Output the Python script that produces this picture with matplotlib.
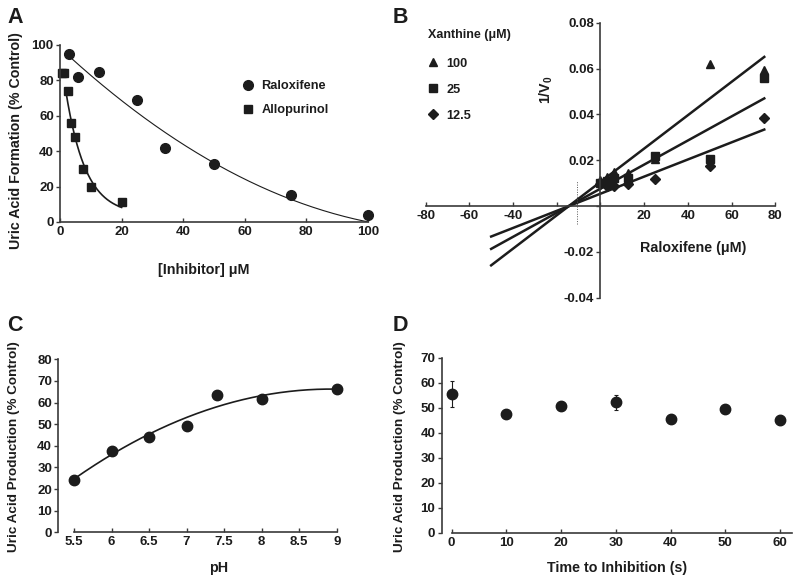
import matplotlib
matplotlib.use("Agg")
import matplotlib.pyplot as plt
import numpy as np
from matplotlib.lines import Line2D

plt.rcParams["font.family"] = ["Liberation Sans", "DejaVu Sans"]
plt.rcParams["font.weight"] = "bold"
plt.rcParams["mathtext.fontset"] = "custom"
plt.rcParams["mathtext.rm"] = "Liberation Sans:bold"
plt.rcParams["mathtext.bf"] = "Liberation Sans:bold"

INK = "#1c1c1c"
SPINE = "#3a3a3a"
TICK_FS = 9.5
LABEL_FS = 10.3

# ── data ─────────────────────────────────────────────────────────────────────
# A: concentration response
ralox_conc = [3, 6, 12.5, 25, 34, 50, 75, 100]
ralox_pct = [95, 82, 85, 69, 42, 33, 15, 4]
allo_conc = [0.5, 1.4, 2.5, 3.7, 5, 7.5, 10, 20]
allo_pct = [84, 84, 74, 56, 48, 30, 20, 11]

# B: Dixon plot, 1/V0 vs raloxifene
dixon_x = [0, 3.125, 6.25, 12.5, 25, 50, 75]
xan_100 = [0.0113, 0.0128, 0.0150, 0.0146, 0.0204, 0.0618, 0.0595]
xan_25 = [0.0102, 0.0109, 0.0121, 0.0124, 0.0218, 0.0205, 0.0557]
xan_12 = [0.0095, 0.0089, 0.0089, 0.0095, 0.0117, 0.0175, 0.0383]
xan_labels = ["100", "25", "12.5"]
dixon_cross = -14.5   # common intersection
ki_line = -10.8       # dotted marker

# C: pH dependence
ph = [5.5, 6, 6.5, 7, 7.4, 8, 9]
ph_pct = [24.2, 37.8, 44.3, 49.0, 63.5, 61.5, 66.3]

# D: time to inhibition
t_inh = [0, 10, 20, 30, 40, 50, 60]
t_pct = [55.4, 47.6, 50.5, 52.1, 45.3, 49.6, 45.1]
t_err = [5.2, 0.6, 0.6, 3.1, 0.6, 1.5, 1.9]


# ── helpers ──────────────────────────────────────────────────────────────────
def style_axes(ax, xdir="in"):
    for s in ("top", "right"):
        ax.spines[s].set_visible(False)
    for s in ("left", "bottom"):
        ax.spines[s].set_color(SPINE)
        ax.spines[s].set_linewidth(1.2)
    ax.tick_params(axis="y", direction="out", length=3, width=1, color=SPINE,
                   labelsize=TICK_FS, pad=1.5, labelcolor=INK)
    ax.tick_params(axis="x", direction=xdir, length=3, width=1, color=SPINE,
                   labelsize=TICK_FS, pad=3, labelcolor=INK)
    for lab in ax.get_xticklabels() + ax.get_yticklabels():
        lab.set_fontweight("bold")


def exp_plateau_fit(x, y):
    x = np.asarray(x, float)
    y = np.asarray(y, float)
    best = None
    for k in np.linspace(0.02, 1.5, 1500):
        M = np.column_stack([np.exp(-k * x), np.ones_like(x)])
        coef, *_ = np.linalg.lstsq(M, y, rcond=None)
        sse = np.sum((M @ coef - y) ** 2)
        if best is None or sse < best[0]:
            best = (sse, k, coef)
    _, k, (a, c) = best
    return lambda xx: a * np.exp(-k * xx) + c


def anchored_quad_fit(x, y):
    # quadratic that reaches zero at the top concentration
    x = np.asarray(x, float)
    y = np.asarray(y, float)
    xm = x.max()
    M = np.column_stack([xm - x, (xm - x) * x])
    (b0, b1), *_ = np.linalg.lstsq(M, y, rcond=None)
    return lambda xx: (xm - xx) * (b0 + b1 * xx)


fig = plt.figure(figsize=(8, 5.84), dpi=100)

# ── A ────────────────────────────────────────────────────────────────────────
axA = fig.add_axes([0.075, 0.620, 0.385, 0.303])
fr = anchored_quad_fit(ralox_conc, ralox_pct)
xr = np.linspace(3, 100, 200)
axA.plot(xr, fr(xr), color=INK, lw=0.8)
fa = exp_plateau_fit(allo_conc, allo_pct)
xa = np.linspace(1.85, 20, 200)
axA.plot(xa, fa(xa), color=INK, lw=1.2)
axA.plot(ralox_conc, ralox_pct, "o", color=INK, ms=7, clip_on=False,
         label="Raloxifene")
axA.plot(allo_conc, allo_pct, "s", color=INK, ms=6, clip_on=False,
         label="Allopurinol")
axA.set_xlim(0, 100)
axA.set_ylim(0, 100)
axA.set_xticks(range(0, 101, 20))
axA.set_yticks(range(0, 101, 20))
style_axes(axA)
axA.legend(loc="upper left", bbox_to_anchor=(0.586, 0.800), frameon=False,
           prop={"size": 9.2, "weight": "bold"}, handletextpad=0.45,
           labelspacing=0.95, handlelength=1.2, borderpad=0, borderaxespad=0,
           labelcolor=INK)
fig.text(0.02, 0.76, "Uric Acid Formation (% Control)", rotation=90,
         ha="center", va="center", fontsize=LABEL_FS, fontweight="bold",
         color=INK)
fig.text(0.255, 0.538, "[Inhibitor] \u03bcM", ha="center", va="center",
         fontsize=LABEL_FS, fontweight="bold", color=INK)

# ── B ────────────────────────────────────────────────────────────────────────
axB = fig.add_axes([0.532, 0.490, 0.437, 0.471])
markers = ["^", "s", "D"]
msizes = [6, 6, 5]
handles = []
for yv, m, ms, lab in zip([xan_100, xan_25, xan_12], markers, msizes, xan_labels):
    xs = np.asarray(dixon_x) - dixon_cross
    slope = np.sum(xs * np.asarray(yv)) / np.sum(xs ** 2)
    xl = np.array([-50, 75])
    axB.plot(xl, slope * (xl - dixon_cross), color=INK, lw=1.8)
    axB.plot(dixon_x, yv, m, color=INK, ms=ms, clip_on=False)
    handles.append(Line2D([], [], ls="none", marker=m, color=INK, ms=ms, label=lab))
axB.plot([ki_line, ki_line], [-0.008, 0.011], ls=(0, (1, 1.5)), color="#555555",
         lw=0.7)
axB.set_xlim(-80, 80)
axB.set_ylim(-0.04, 0.08)
axB.spines["left"].set_position(("data", 0))
axB.spines["bottom"].set_position(("data", 0))
axB.set_xticks(range(-80, 81, 20))
axB.set_xticklabels(["-80", "-60", "-40", "", "", "20", "40", "60", "80"])
axB.set_yticks([-0.04, -0.02, 0, 0.02, 0.04, 0.06, 0.08])
axB.set_yticklabels(["-0.04", "-0.02", "", "0.02", "0.04", "0.06", "0.08"])
style_axes(axB)
fig.text(0.535, 1 - 35 / 584, "Xanthine (\u03bcM)", ha="left", va="center",
         fontsize=9.0, fontweight="bold", color=INK)
fig.legend(handles=handles, loc="upper left", bbox_to_anchor=(0.532, 0.901),
           frameon=False, prop={"size": 9.2, "weight": "bold"},
           handletextpad=0.45, labelspacing=1.1, handlelength=1.2,
           borderpad=0, borderaxespad=0, labelcolor=INK)
fig.text(0.683, 0.846, r"1/V$_\mathbf{0}$", rotation=90, ha="center",
         va="center", fontsize=LABEL_FS, color=INK)
fig.text(0.866, 0.575, "Raloxifene (\u03bcM)", ha="center", va="center",
         fontsize=LABEL_FS, fontweight="bold", color=INK)

# ── C ────────────────────────────────────────────────────────────────────────
axC = fig.add_axes([0.0729, 0.0885, 0.348, 0.2962])
pc = np.polyfit(ph, ph_pct, 2)
xc = np.linspace(5.5, 9, 200)
axC.plot(xc, np.polyval(pc, xc), color=INK, lw=1.2)
axC.plot(ph, ph_pct, "o", color=INK, ms=7.5, clip_on=False)
axC.set_xlim(5.291, 9.0)
axC.set_ylim(0, 80)
axC.set_xticks([5.5, 6, 6.5, 7, 7.5, 8, 8.5, 9])
axC.set_xticklabels(["5.5", "6", "6.5", "7", "7.5", "8", "8.5", "9"])
axC.set_yticks(range(0, 81, 10))
axC.spines["bottom"].set_bounds(5.5, 9)
style_axes(axC)
fig.text(0.018, 0.236, "Uric Acid Production (% Control)", rotation=90,
         ha="center", va="center", fontsize=9.7, fontweight="bold",
         color=INK)
fig.text(0.273, 0.027, "pH", ha="center", va="center", fontsize=LABEL_FS,
         fontweight="bold", color=INK)

# ── D ────────────────────────────────────────────────────────────────────────
axD = fig.add_axes([0.552, 0.0878, 0.4375, 0.2997])
axD.errorbar(t_inh, t_pct, yerr=t_err, fmt="o", color=INK, ms=7.5, capsize=1.5,
             elinewidth=0.8, capthick=0.8, clip_on=False)
axD.set_xlim(-1.83, 62.1)
axD.set_ylim(0, 70)
axD.set_xticks(range(0, 61, 10))
axD.set_yticks(range(0, 71, 10))
axD.spines["bottom"].set_bounds(0, 62.1)
style_axes(axD)
fig.text(0.5, 0.236, "Uric Acid Production (% Control)", rotation=90,
         ha="center", va="center", fontsize=9.7, fontweight="bold",
         color=INK)
fig.text(0.771, 0.027, "Time to Inhibition (s)", ha="center", va="center",
         fontsize=LABEL_FS, fontweight="bold", color=INK)

# ── panel letters ────────────────────────────────────────────────────────────
for x, y, s in [(0.009, 0.988, "A"), (0.491, 0.988, "B"),
                (0.009, 0.461, "C"), (0.491, 0.461, "D")]:
    fig.text(x, y, s, ha="left", va="top", fontsize=15.5, fontweight="bold",
             color=INK)

fig.savefig("out.png", dpi=100)
